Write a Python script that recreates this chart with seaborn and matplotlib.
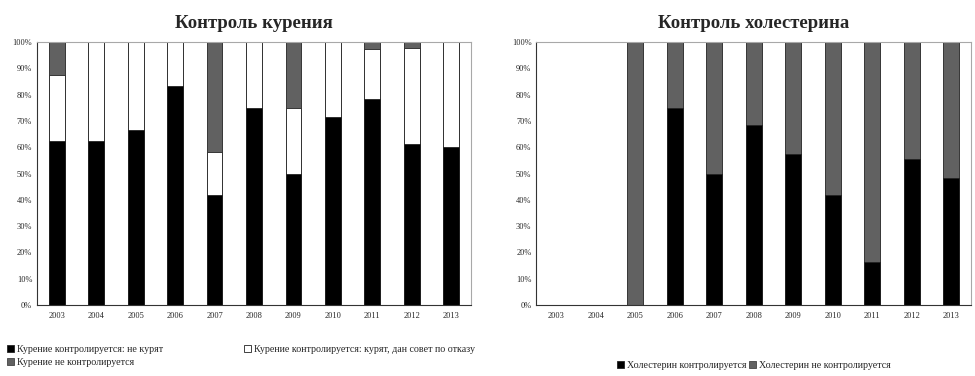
import numpy as np
import pandas as pd
import seaborn as sns
import matplotlib.pyplot as plt
from matplotlib.patches import Patch

years = ['2003', '2004', '2005', '2006', '2007', '2008', '2009', '2010', '2011', '2012', '2013']

# контроль курения, %
smoke_no = [62.5, 62.5, 66.7, 83.3, 41.7, 75.0, 50.0, 71.4, 78.3, 61.4, 60.0]
smoke_advised = [25.0, 37.5, 33.3, 16.7, 16.6, 25.0, 25.0, 28.6, 19.1, 36.3, 40.0]
smoke_unctrl = [12.5, 0.0, 0.0, 0.0, 41.7, 0.0, 25.0, 0.0, 2.6, 2.3, 0.0]

# контроль холестерина, %
chol_ctrl = [0.0, 0.0, 0.0, 75.0, 50.0, 68.5, 57.5, 42.0, 16.5, 55.5, 48.2]
chol_unctrl = [0.0, 0.0, 100.0, 25.0, 50.0, 31.5, 42.5, 58.0, 83.5, 44.5, 51.8]

smoke_labels = ['Курение контролируется: не курят',
                'Курение контролируется: курят, дан совет по отказу',
                'Курение не контролируется']
chol_labels = ['Холестерин контролируется', 'Холестерин не контролируется']

BLACK, WHITE, GRAY = '#000000', '#ffffff', '#616161'

sns.set_style('white')
plt.rcParams['font.family'] = ['Liberation Serif', 'DejaVu Serif']

df_s = pd.DataFrame({'year': years, 'no': smoke_no, 'adv': smoke_advised, 'un': smoke_unctrl})
df_c = pd.DataFrame({'year': years, 'ctrl': chol_ctrl, 'un': chol_unctrl})

fig = plt.figure(figsize=(9.75, 3.76), dpi=100)
ax1 = fig.add_axes([0.038, 0.189, 0.445, 0.699])
ax2 = fig.add_axes([0.550, 0.189, 0.446, 0.699])


def stacked(ax, layers, colors):
    # рисуем от суммарной высоты вниз, каждый слой перекрывает предыдущий
    for vals, col in zip(layers, colors):
        sns.barplot(x=years, y=vals, color=col, width=0.4, edgecolor='#222222',
                    linewidth=0.6, saturation=1, ax=ax, errorbar=None)


stacked(ax1,
        [df_s['no'] + df_s['adv'] + df_s['un'], df_s['no'] + df_s['adv'], df_s['no']],
        [GRAY, WHITE, BLACK])
stacked(ax2,
        [df_c['ctrl'] + df_c['un'], df_c['ctrl']],
        [GRAY, BLACK])

for ax, title in [(ax1, 'Контроль курения'), (ax2, 'Контроль холестерина')]:
    ax.set_xlim(-0.5, 10.5)
    ax.set_ylim(0, 100)
    ax.set_yticks(np.arange(0, 101, 10))
    ax.set_yticklabels([f'{v}%' for v in range(0, 101, 10)])
    ax.set_xticks(np.arange(-0.5, 11, 1), minor=True)
    ax.tick_params(axis='x', which='major', length=0, labelsize=6, pad=5)
    ax.tick_params(axis='x', which='minor', length=3, width=0.6, direction='out', color='#333333')
    ax.tick_params(axis='y', length=3, width=0.6, direction='inout', color='#333333', labelsize=6, pad=2)
    for s in ['left', 'bottom']:
        ax.spines[s].set_color('#333333')
        ax.spines[s].set_linewidth(0.8)
    for s in ['top', 'right']:
        ax.spines[s].set_color('#a8a8a8')
        ax.spines[s].set_linewidth(0.8)
    ax.set_xlabel('')
    ax.set_ylabel('')
    ax.set_title(title, fontsize=13.5, fontweight='bold', pad=10)

h_s = [Patch(facecolor=BLACK, edgecolor='#222222', linewidth=0.6, label=smoke_labels[0]),
       Patch(facecolor=GRAY, edgecolor='#444444', linewidth=0.6, label=smoke_labels[2]),
       Patch(facecolor=WHITE, edgecolor='#222222', linewidth=0.6, label=smoke_labels[1])]
fig.legend(handles=h_s, loc='upper left', bbox_to_anchor=(0.003, 0.094), ncol=2,
           frameon=False, fontsize=7.2, handlelength=0.7, handleheight=0.7,
           handletextpad=0.3, columnspacing=8.1, labelspacing=0.45, borderaxespad=0)

h_c = [Patch(facecolor=BLACK, edgecolor='#222222', linewidth=0.6, label=chol_labels[0]),
       Patch(facecolor=GRAY, edgecolor='#444444', linewidth=0.6, label=chol_labels[1])]
fig.legend(handles=h_c, loc='upper center', bbox_to_anchor=(0.773, 0.050), ncol=2,
           frameon=False, fontsize=7.2, handlelength=0.7, handleheight=0.7,
           handletextpad=0.3, columnspacing=0.3, borderaxespad=0)

fig.savefig('out.png', dpi=100)
